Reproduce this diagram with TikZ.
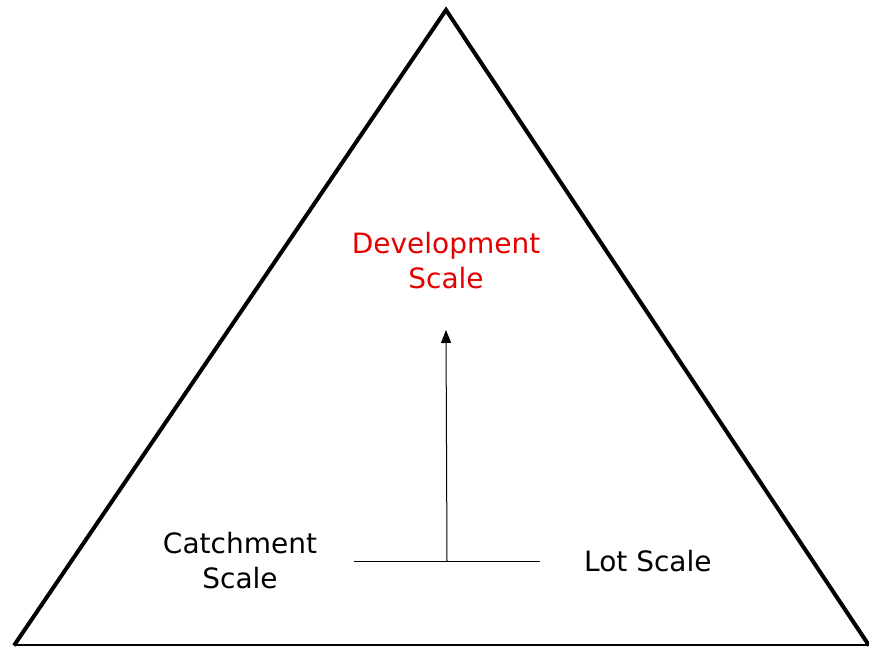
\documentclass[tikz,border=0pt]{standalone}
\usepackage{fontspec}
\setmainfont{DejaVu Sans}
\usepackage{xcolor}
\usetikzlibrary{arrows.meta, positioning, calc}
\definecolor{devred}{RGB}{228,0,0}
\tikzstyle{label} = [align=center, font=\fontsize{28}{35}\selectfont, inner sep=0pt]
\tikzstyle{side} = [line width=4pt, line join=miter]
\tikzstyle{arrow} = [line width=1pt,->,>={Triangle[length=13pt,width=10pt]}]

\begin{document}
\begin{tikzpicture}[x=1pt, y=1pt]
    \useasboundingbox (0,0) rectangle (869,647);
    % Triangle
    \coordinate (apex) at (446,637);
    \coordinate (left) at (14,1.5);
    \coordinate (right) at (869,1.5);
    \draw[side] (left) -- (apex) -- (right);
    \draw[line width=2pt] (left) -- (right);
    
    % Labels
    \node[label, text=devred] (dev) at (446,386) {Development\\Scale};
    \node[label] (catch) at (240,86) {Catchment\\Scale};
    \node[label, anchor=west] (lot) at (584,86) {Lot Scale};
    
    % Base line and arrow
    \coordinate (baseL) at (354,85);
    \coordinate (baseR) at (540,85);
    \coordinate (baseM) at ($(baseL)!0.5!(baseR)$);
    \coordinate (tip) at (446,317);
    \draw[line width=1pt] (baseL) -- (baseR);
    \draw[arrow] (baseM) -- (tip);
    
\end{tikzpicture}
\end{document}
